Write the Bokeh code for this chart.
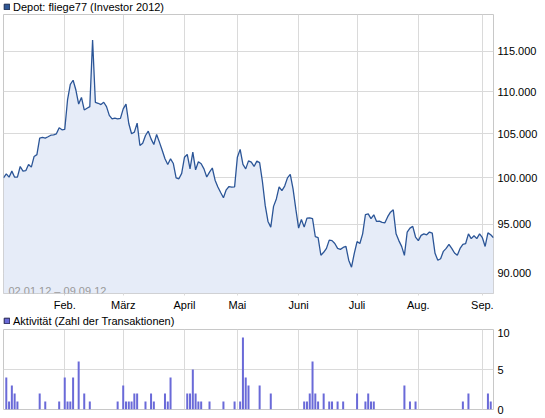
from bokeh.plotting import figure
from bokeh.layouts import column
from bokeh.models import Range1d, FixedTicker, Label, Legend, LegendItem
from bokeh.embed import file_html
from bokeh.resources import INLINE

# x = trading-day index: 0 = 02.01.2012 ... 176 = 07.09.2012
month_ticks = [22, 43, 65, 84, 106, 127, 149, 172]
month_labels = ["Feb.", "März", "April", "Mai", "Juni", "Juli", "Aug.", "Sep."]

depot_values = [
    100000, 100450, 100080, 100750, 100080, 100080, 101270, 100750, 100800, 101500,
    101200, 102400, 102600, 104500, 104580, 104500, 104650, 104830, 104870, 104990,
    105690, 105460, 105500, 109000, 110900, 111400, 110200, 108500, 109300, 107800,
    108000, 108200, 116480, 108700, 108600, 108440, 108720, 108200, 107150, 106750,
    106830, 106750, 106800, 107930, 108500, 106200, 105000, 105190, 106240, 103650,
    103910, 104800, 105300, 104410, 103760, 104920, 104030, 103100, 102130, 101490,
    102130, 101600, 100000, 99900, 100500, 102300, 102620, 101000, 102890, 100900,
    101800, 101570, 101000, 100100, 100640, 101100, 99750, 99000, 98400, 97820,
    98690, 99050, 98980, 99000, 102300, 103200, 101500, 101000, 101900, 101750,
    101270, 101870, 101700, 99600, 97000, 95300, 94700, 96900, 97700, 99000,
    98600, 99100, 100000, 100400, 98800, 96600, 94600, 95500, 94700, 95650,
    95680, 95600, 93700, 93600, 91800, 92100, 92500, 93350, 93300, 93000,
    92500, 92400, 92600, 92700, 91300, 90600, 92000, 93200, 93000, 94000,
    96030, 96100, 95600, 96000, 95300, 95330, 95200, 95160, 95800, 96280,
    96530, 94010, 93300, 92710, 91790, 94190, 94600, 94780, 93670, 93300,
    93840, 94000, 93900, 94190, 94080, 92000, 91300, 91450, 92200, 92500,
    92900, 92500, 92030, 91790, 92500, 92910, 93000, 94000, 93500, 93800,
    93500, 94000, 93600, 92700, 94100, 93900, 93600,
]
y_ticks = [90000, 95000, 100000, 105000, 110000, 115000]
y_tick_labels = ["90.000", "95.000", "100.000", "105.000", "110.000", "115.000"]
y_low, y_high = 88000, 119800

activity_days = [1, 2, 3, 4, 5, 13, 15, 20, 22, 23, 24, 25, 27, 29, 31,
                 41, 43, 44, 45, 46, 47, 48, 51, 53, 54, 58, 59, 60,
                 66, 67, 68, 69, 70, 71, 74, 79, 83, 85, 86, 87, 88, 92, 96,
                 108, 109, 110, 111, 112, 113, 115, 117, 118, 120, 122,
                 127, 130, 131, 132, 133, 144, 146, 148, 165, 167, 174, 175]
activity_counts = [4, 1, 3, 2, 1, 2, 1, 1, 4, 1, 1, 4, 6, 2, 1,
                   1, 3, 1, 1, 1, 2, 2, 1, 2, 1, 2, 1, 4,
                   2, 2, 5, 2, 1, 1, 1, 1, 1, 1, 9, 4, 3, 3, 2,
                   1, 1, 2, 6, 2, 1, 2, 1, 1, 1, 1,
                   2, 1, 2, 1, 1, 3, 1, 1, 1, 2, 2, 1]
activity_ticks = [0, 5, 10]

title_top = "Depot: fliege77 (Investor 2012)"
title_bottom = "Aktivität (Zahl der Transaktionen)"
period_text = "02.01.12 – 09.09.12"

FONT = "Liberation Sans"
GRID = "#dadada"
OUTLINE = "#c8c8c8"
LINE = "#2b5597"
AREA = "#e6ecf8"
BAR = "#6a6ad8"

days = list(range(len(depot_values)))
n_last = len(depot_values) - 1
NAN = float("nan")

W = 545


def title_strip(text, fill, line, height):
    t = figure(width=W, height=height, x_range=Range1d(0, 1), y_range=Range1d(0, 1),
               x_axis_location=None, y_axis_location=None,
               output_backend="svg", toolbar_location=None,
               min_border=0, min_border_left=2)
    t.grid.visible = False
    t.outline_line_color = None
    # legend proxy: a single NaN bar draws nothing in the strip itself
    r = t.vbar(x=[NAN], top=[NAN], width=1, fill_color=fill, line_color=line)
    lg = Legend(items=[LegendItem(label=text, renderers=[r])],
                location="left", orientation="horizontal",
                glyph_width=7, glyph_height=7, label_standoff=3,
                padding=0, margin=0, spacing=0, label_height=11,
                border_line_color=None, background_fill_alpha=0,
                label_text_font=FONT, label_text_font_size="11px",
                label_text_color="#000000")
    t.add_layout(lg, "center")
    return t


# ---------- top chart ----------
t1 = title_strip(title_top, "#2e5796", "#1c2b4d", 13)
p1 = figure(width=W, height=300, x_range=Range1d(0, n_last),
            y_range=Range1d(y_low, y_high), y_axis_type="log",
            y_axis_location="right", output_backend="svg", toolbar_location=None,
            min_border_left=3, min_border_right=52,
            min_border_top=1, min_border_bottom=20)
p1.varea(x=days, y1=[y_low] * len(days), y2=depot_values, fill_color=AREA)
p1.line(days, depot_values, line_color=LINE, line_width=1.3)

p1.xaxis.ticker = FixedTicker(ticks=month_ticks)
p1.xaxis.major_label_overrides = dict(zip(month_ticks, month_labels))
p1.yaxis.ticker = FixedTicker(ticks=y_ticks)
p1.yaxis.major_label_overrides = dict(zip(y_ticks, y_tick_labels))
for ax in (p1.xaxis, p1.yaxis):
    ax.axis_line_color = None
    ax.major_tick_in = 0
    ax.minor_tick_line_color = None
    ax.major_label_text_font = FONT
    ax.major_label_text_font_size = "11px"
    ax.major_label_text_color = "#000000"
p1.xaxis.major_tick_out = 2
p1.xaxis.major_tick_line_color = GRID
p1.xaxis.major_label_standoff = 3
p1.yaxis.major_tick_out = 0
p1.yaxis.major_tick_line_color = None
p1.yaxis.major_label_standoff = 4
p1.xgrid.grid_line_color = GRID
p1.ygrid.grid_line_color = GRID
p1.outline_line_color = OUTLINE
p1.add_layout(Label(x=5, y=2.5, x_units="screen", y_units="screen",
                    text=period_text, text_font=FONT, text_font_size="11px",
                    text_color="#9a9a9a", text_baseline="alphabetic"))

# ---------- bottom chart ----------
t2 = title_strip(title_bottom, BAR, "#22224a", 15)
p2 = figure(width=W, height=90, x_range=p1.x_range, y_range=Range1d(0, 10),
            x_axis_location=None, y_axis_location="right",
            output_backend="svg", toolbar_location=None,
            min_border_left=3, min_border_right=52,
            min_border_top=1, min_border_bottom=9)
p2.vbar(x=activity_days, top=activity_counts, width=0.72,
        fill_color=BAR, line_color=None)

p2.yaxis.ticker = FixedTicker(ticks=activity_ticks)
p2.yaxis.axis_line_color = None
p2.yaxis.major_tick_in = 0
p2.yaxis.major_tick_out = 0
p2.yaxis.major_tick_line_color = None
p2.yaxis.minor_tick_line_color = None
p2.yaxis.major_label_standoff = 4
p2.yaxis.major_label_text_font = FONT
p2.yaxis.major_label_text_font_size = "11px"
p2.yaxis.major_label_text_color = "#000000"
p2.xgrid.ticker = FixedTicker(ticks=month_ticks)
p2.xgrid.grid_line_color = GRID
p2.ygrid.grid_line_color = GRID
p2.outline_line_color = OUTLINE

layout = column(t1, p1, t2, p2)

open("out.html", "w").write(file_html(layout, INLINE))
